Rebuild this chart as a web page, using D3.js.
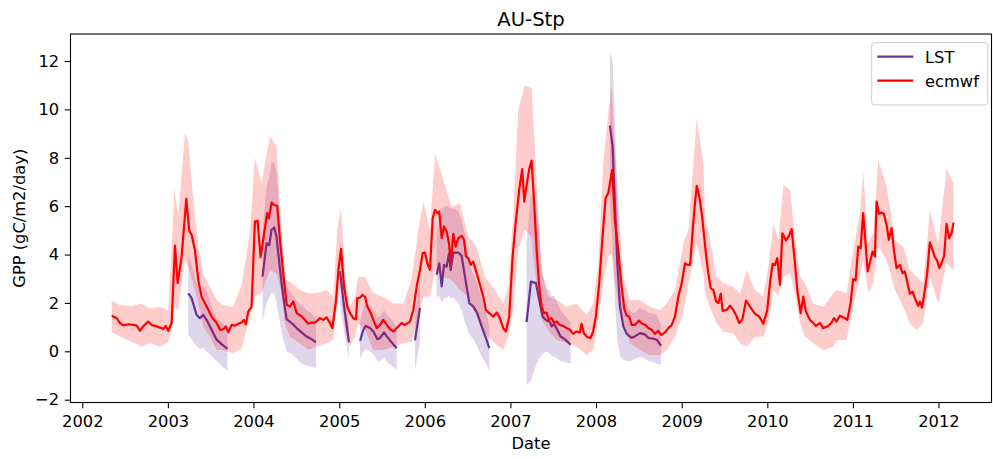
<!DOCTYPE html>
<html>
<head>
<meta charset="utf-8">
<script src="https://cdn.jsdelivr.net/npm/d3@7"></script>
<style>
  html, body { margin: 0; padding: 0; background: #fff; }
  svg { display: block; font-family: "DejaVu Sans", sans-serif; }
</style>
</head>
<body>
<svg id="chart" width="993" height="459"></svg>
<script>
// ECMWF-driven GPP estimate (decimal years, gC/m2/day)
const ecmwfYear = [
  2002.343, 2002.402, 2002.440, 2002.479, 2002.537, 2002.596, 2002.635, 2002.674, 2002.712, 2002.771,
  2002.810, 2002.869, 2002.907, 2002.946, 2002.974, 2003.004, 2003.044, 2003.083, 2003.114, 2003.161,
  2003.215, 2003.250, 2003.278, 2003.316, 2003.355, 2003.394, 2003.453, 2003.511, 2003.570, 2003.608,
  2003.647, 2003.678, 2003.705, 2003.745, 2003.783, 2003.822, 2003.861, 2003.888, 2003.912, 2003.939,
  2003.978, 2004.017, 2004.048, 2004.083, 2004.122, 2004.160, 2004.180, 2004.212, 2004.242, 2004.277,
  2004.309, 2004.347, 2004.387, 2004.426, 2004.464, 2004.504, 2004.562, 2004.601, 2004.639, 2004.679,
  2004.718, 2004.776, 2004.814, 2004.854, 2004.893, 2004.920, 2004.963, 2004.990, 2005.021, 2005.056,
  2005.095, 2005.126, 2005.165, 2005.196, 2005.211, 2005.243, 2005.270, 2005.301, 2005.328, 2005.368,
  2005.407, 2005.438, 2005.477, 2005.515, 2005.555, 2005.593, 2005.632, 2005.672, 2005.730, 2005.768,
  2005.827, 2005.865, 2005.905, 2005.944, 2005.975, 2006.002, 2006.029, 2006.060, 2006.092, 2006.119,
  2006.146, 2006.169, 2006.197, 2006.224, 2006.255, 2006.282, 2006.302, 2006.333, 2006.361, 2006.391,
  2006.431, 2006.458, 2006.481, 2006.508, 2006.536, 2006.566, 2006.606, 2006.644, 2006.683, 2006.714,
  2006.753, 2006.800, 2006.839, 2006.878, 2006.916, 2006.948, 2006.986, 2007.026, 2007.065, 2007.103,
  2007.138, 2007.162, 2007.190, 2007.220, 2007.248, 2007.278, 2007.307, 2007.337, 2007.365, 2007.392,
  2007.423, 2007.450, 2007.481, 2007.508, 2007.540, 2007.578, 2007.617, 2007.657, 2007.695, 2007.734,
  2007.773, 2007.812, 2007.832, 2007.859, 2007.897, 2007.937, 2007.967, 2007.999, 2008.038, 2008.077,
  2008.112, 2008.143, 2008.189, 2008.221, 2008.259, 2008.299, 2008.329, 2008.357, 2008.388, 2008.416,
  2008.454, 2008.501, 2008.540, 2008.579, 2008.610, 2008.649, 2008.688, 2008.726, 2008.758, 2008.805,
  2008.843, 2008.883, 2008.921, 2008.960, 2009.000, 2009.038, 2009.070, 2009.097, 2009.128, 2009.147,
  2009.175, 2009.205, 2009.237, 2009.277, 2009.310, 2009.338, 2009.369, 2009.401, 2009.427, 2009.455,
  2009.478, 2009.525, 2009.564, 2009.602, 2009.642, 2009.672, 2009.707, 2009.751, 2009.797, 2009.856,
  2009.906, 2009.953, 2009.999, 2010.031, 2010.062, 2010.089, 2010.116, 2010.148, 2010.175, 2010.218,
  2010.253, 2010.284, 2010.323, 2010.350, 2010.390, 2010.420, 2010.451, 2010.498, 2010.537, 2010.568,
  2010.615, 2010.653, 2010.712, 2010.751, 2010.778, 2010.810, 2010.848, 2010.907, 2010.934, 2010.973,
  2011.003, 2011.032, 2011.062, 2011.090, 2011.120, 2011.149, 2011.172, 2011.199, 2011.230, 2011.257,
  2011.277, 2011.304, 2011.335, 2011.362, 2011.394, 2011.420, 2011.452, 2011.479, 2011.510, 2011.549,
  2011.580, 2011.607, 2011.634, 2011.666, 2011.698, 2011.724, 2011.763, 2011.783, 2011.809, 2011.841,
  2011.868, 2011.899, 2011.931, 2011.958, 2011.985, 2012.008, 2012.036, 2012.066, 2012.094, 2012.125,
  2012.153, 2012.176
];
const ecmwfGpp = [
  1.47, 1.37, 1.17, 1.07, 1.12, 1.09, 1.06, 0.85, 1.03, 1.23,
  1.09, 1.03, 0.98, 0.92, 1.05, 0.85, 1.17, 4.37, 2.82, 3.92,
  6.30, 4.98, 4.81, 4.19, 2.95, 2.26, 1.85, 1.44, 1.17, 0.89,
  0.91, 1.03, 0.79, 1.09, 1.06, 1.14, 1.19, 1.30, 1.12, 1.64,
  1.85, 5.36, 5.40, 3.89, 4.81, 5.71, 5.50, 6.15, 6.05, 6.01,
  4.61, 3.23, 1.92, 1.85, 2.06, 1.58, 1.44, 1.30, 1.14, 1.19,
  1.19, 1.37, 1.30, 1.40, 1.16, 0.96, 2.13, 3.36, 4.24, 2.68,
  1.85, 1.58, 1.37, 1.32, 2.20, 2.22, 2.33, 2.26, 1.85, 1.58,
  1.23, 0.96, 1.09, 1.30, 1.09, 0.92, 0.82, 0.96, 1.17, 1.09,
  1.23, 1.70, 2.68, 3.37, 4.06, 4.08, 3.64, 3.37, 5.50, 5.85,
  5.71, 5.78, 4.68, 5.16, 4.95, 4.47, 3.64, 4.86, 4.33, 4.68,
  4.77, 4.61, 3.92, 3.85, 3.57, 3.71, 3.23, 2.75, 2.26, 1.71,
  1.58, 1.44, 1.60, 1.37, 0.96, 0.82, 1.44, 3.92, 5.43, 6.67,
  7.53, 6.19, 6.88, 7.53, 7.88, 6.12, 4.19, 2.68, 1.85, 1.58,
  1.60, 1.30, 1.37, 1.19, 1.23, 1.09, 1.05, 0.96, 0.89, 0.72,
  0.82, 0.78, 1.14, 0.75, 0.59, 0.55, 0.82, 1.44, 2.82, 4.74,
  6.33, 6.54, 7.50, 5.43, 4.19, 2.68, 1.78, 1.47, 1.44, 1.09,
  1.09, 1.27, 1.14, 1.09, 0.96, 0.89, 0.72, 0.85, 0.68, 0.78,
  0.96, 1.09, 1.44, 2.26, 2.82, 3.64, 3.57, 3.57, 5.02, 5.85,
  6.84, 6.40, 5.60, 4.20, 3.23, 2.61, 2.53, 2.06, 1.99, 2.38,
  1.67, 1.71, 1.89, 1.71, 1.44, 1.17, 1.30, 2.10, 1.85, 1.55,
  1.44, 1.14, 1.71, 2.82, 3.62, 3.57, 3.85, 2.75, 4.88, 4.58,
  4.77, 5.05, 3.64, 2.54, 1.58, 2.26, 1.64, 1.30, 1.17, 1.05,
  1.17, 0.96, 1.05, 1.19, 1.37, 1.23, 1.47, 1.37, 1.30, 1.99,
  2.98, 2.93, 4.33, 4.26, 5.71, 4.40, 3.30, 3.67, 4.12, 3.92,
  6.19, 5.68, 5.74, 5.68, 5.22, 4.61, 5.09, 4.19, 3.44, 3.57,
  3.23, 3.30, 2.88, 2.38, 2.47, 2.20, 1.88, 2.05, 1.81, 2.54,
  3.23, 4.50, 4.19, 3.89, 3.75, 3.44, 3.64, 3.95, 5.27, 4.68,
  4.88, 5.32
];

// Spread envelope around the ECMWF estimate
const ecmwfBandYear = [
  2002.343, 2002.440, 2002.576, 2002.693, 2002.790, 2002.907, 2003.004, 2003.043, 2003.075, 2003.121,
  2003.199, 2003.238, 2003.297, 2003.355, 2003.413, 2003.491, 2003.569, 2003.647, 2003.764, 2003.861,
  2003.958, 2004.017, 2004.094, 2004.192, 2004.269, 2004.328, 2004.367, 2004.425, 2004.542, 2004.639,
  2004.737, 2004.853, 2004.931, 2004.978, 2005.021, 2005.068, 2005.126, 2005.184, 2005.223, 2005.301,
  2005.398, 2005.515, 2005.632, 2005.749, 2005.846, 2005.924, 2005.983, 2006.060, 2006.119, 2006.216,
  2006.313, 2006.411, 2006.508, 2006.605, 2006.703, 2006.819, 2006.917, 2006.975, 2007.034, 2007.092,
  2007.170, 2007.248, 2007.306, 2007.365, 2007.442, 2007.540, 2007.657, 2007.773, 2007.890, 2007.968,
  2008.027, 2008.085, 2008.143, 2008.182, 2008.221, 2008.280, 2008.319, 2008.396, 2008.513, 2008.630,
  2008.747, 2008.825, 2008.922, 2009.019, 2009.078, 2009.175, 2009.253, 2009.272, 2009.331, 2009.408,
  2009.486, 2009.603, 2009.681, 2009.759, 2009.856, 2009.953, 2010.012, 2010.070, 2010.129, 2010.187,
  2010.265, 2010.323, 2010.382, 2010.440, 2010.537, 2010.654, 2010.771, 2010.810, 2010.926, 2011.004,
  2011.082, 2011.121, 2011.180, 2011.238, 2011.296, 2011.394, 2011.491, 2011.588, 2011.666, 2011.744,
  2011.822, 2011.900, 2011.997, 2012.094, 2012.176
];
const ecmwfBandLow = [
  0.81, 0.60, 0.40, 0.19, 0.33, 0.19, 0.40, 0.88, 1.84, 1.70,
  3.77, 3.50, 2.80, 1.98, 1.02, 0.60, 0.05, 0.05, -0.08, 0.12,
  1.43, 2.26, 2.40, 3.36, 3.22, 2.40, 1.16, 0.60, 0.33, 0.05,
  0.19, 0.33, 0.47, 1.98, 2.81, 0.88, 0.19, 0.60, 1.16, 0.88,
  0.05, 0.05, 0.19, 0.33, 0.40, 1.43, 2.26, 2.26, 3.36, 3.08,
  2.95, 2.53, 2.26, 1.43, 0.74, 0.33, 0.05, 0.60, 1.70, 4.20,
  5.00, 4.74, 2.67, 1.29, 0.88, 0.47, 0.33, 0.19, -0.15, 0.05,
  1.29, 2.81, 3.91, 4.05, 2.81, 1.57, 1.16, 0.33, 0.05, -0.15,
  -0.15, 0.05, 0.60, 1.57, 2.81, 4.46, 3.22, 2.40, 1.80, 1.16,
  0.81, 0.74, 0.33, 0.19, 0.60, 0.60, 1.16, 2.53, 2.30, 3.08,
  3.22, 2.40, 1.16, 0.60, 0.33, 0.05, 0.19, 0.47, 0.47, 1.84,
  3.08, 3.77, 2.40, 2.81, 4.32, 3.77, 2.53, 1.84, 1.16, 0.88,
  1.16, 3.08, 1.98, 3.64, 3.36
];
const ecmwfBandHigh = [
  2.09, 1.91, 1.87, 1.98, 1.78, 1.84, 1.71, 4.19, 6.74, 5.56,
  9.00, 8.70, 6.25, 4.46, 3.22, 2.67, 2.12, 1.91, 1.84, 2.74,
  4.88, 8.00, 6.95, 8.90, 8.50, 4.88, 2.95, 2.88, 2.53, 2.40,
  2.40, 2.53, 2.26, 5.10, 5.98, 3.08, 1.84, 2.26, 3.08, 3.08,
  2.40, 2.26, 1.98, 1.98, 3.00, 5.00, 6.18, 5.00, 8.18, 7.08,
  5.98, 6.12, 4.74, 4.32, 3.08, 2.53, 1.98, 2.67, 5.70, 10.00,
  11.00, 10.90, 7.08, 3.36, 2.26, 2.12, 1.84, 1.98, 1.50, 1.98,
  3.64, 7.77, 9.84, 10.94, 8.46, 5.01, 3.08, 2.12, 2.12, 1.84,
  1.71, 1.98, 2.53, 4.46, 5.01, 9.63, 7.77, 5.56, 4.60, 3.08,
  2.81, 2.67, 2.40, 3.36, 2.53, 2.26, 3.50, 5.29, 4.60, 6.87,
  6.67, 4.74, 3.08, 2.81, 1.98, 1.84, 2.40, 2.53, 2.40, 4.19,
  5.70, 7.42, 4.46, 4.88, 7.91, 6.80, 4.60, 4.32, 3.36, 3.08,
  2.81, 5.84, 4.46, 7.56, 6.95
];

// LST-driven GPP estimate; null marks gaps between observation periods
const lstYear = [
  2003.238, 2003.277, 2003.335, 2003.374, 2003.413, 2003.452, 2003.511, 2003.569, 2003.627, 2003.697,
  2003.900,
  2004.106, 2004.153, 2004.184, 2004.211, 2004.242, 2004.269, 2004.308, 2004.347, 2004.386, 2004.445,
  2004.503, 2004.561, 2004.620, 2004.678, 2004.729,
  2004.870,
  2005.009, 2005.056, 2005.114,
  2005.180,
  2005.243, 2005.282, 2005.309, 2005.360, 2005.406, 2005.445, 2005.476, 2005.523, 2005.562, 2005.613,
  2005.671,
  2005.780,
  2005.885, 2005.944,
  2006.040,
  2006.138, 2006.169, 2006.197, 2006.224, 2006.255, 2006.282, 2006.302, 2006.333, 2006.391, 2006.430,
  2006.469, 2006.520, 2006.567, 2006.613, 2006.664, 2006.714, 2006.753,
  2006.970,
  2007.189, 2007.240, 2007.298, 2007.337, 2007.376, 2007.423, 2007.462, 2007.481, 2007.509, 2007.548,
  2007.586, 2007.637, 2007.703,
  2007.930,
  2008.163, 2008.194, 2008.221, 2008.249, 2008.280, 2008.319, 2008.358, 2008.416, 2008.455, 2008.513,
  2008.572, 2008.611, 2008.669, 2008.708, 2008.759
];
const lstGpp = [
  2.40, 2.20, 1.51, 1.37, 1.51, 1.30, 0.89, 0.48, 0.30, 0.10,
  null,
  3.09, 4.47, 4.39, 5.02, 5.12, 4.74, 3.44, 2.26, 1.33, 1.17,
  0.96, 0.78, 0.61, 0.50, 0.37,
  null,
  3.30, 1.85, 0.37,
  null,
  0.43, 0.89, 1.05, 0.96, 0.78, 0.50, 0.55, 0.78, 0.59, 0.37,
  0.13,
  null,
  0.45, 1.80,
  null,
  3.16, 3.64, 2.68, 3.57, 3.50, 4.03, 3.37, 4.08, 4.08, 3.95,
  3.09, 1.99, 1.85, 1.58, 1.03, 0.55, 0.13,
  null,
  1.21, 2.88, 2.82, 2.13, 1.44, 1.27, 1.22, 1.03, 1.14, 0.89,
  0.61, 0.50, 0.27,
  null,
  9.33, 8.46, 6.12, 3.64, 1.85, 1.03, 0.72, 0.55, 0.62, 0.75,
  0.70, 0.55, 0.52, 0.48, 0.23
];
const lstLow = [
  0.70, 0.50, 0.20, 0.10, 0.15, 0.00, -0.20, -0.40, -0.60, -0.80,
  null,
  1.20, 2.00, 2.20, 2.40, 2.40, 2.00, 1.20, 0.50, 0.00, -0.10,
  -0.30, -0.50, -0.60, -0.65, -0.70,
  null,
  2.00, 0.80, -0.30,
  null,
  -0.30, 0.00, 0.10, 0.00, -0.15, -0.40, -0.40, -0.25, -0.45, -0.60,
  -0.75,
  null,
  -0.80, 0.40,
  null,
  2.20, 2.30, 2.00, 2.20, 2.20, 2.30, 2.20, 2.20, 2.00, 1.70,
  1.20, 0.70, 0.50, 0.20, -0.20, -0.50, -0.80,
  null,
  -1.40, -1.20, -0.60, -0.30, -0.10, 0.00, -0.10, -0.20, -0.20, -0.30,
  -0.40, -0.45, -0.50,
  null,
  6.00, 4.50, 2.00, 0.50, -0.20, -0.35, -0.40, -0.40, -0.30, -0.25,
  -0.30, -0.40, -0.45, -0.50, -0.55
];
const lstHigh = [
  4.00, 3.60, 2.80, 2.60, 2.70, 2.50, 1.90, 1.40, 1.20, 1.00,
  null,
  5.00, 6.80, 7.20, 7.80, 7.80, 7.40, 5.60, 4.00, 2.70, 2.40,
  2.10, 1.90, 1.70, 1.55, 1.40,
  null,
  4.60, 2.90, 1.10,
  null,
  1.20, 1.80, 2.00, 1.90, 1.70, 1.40, 1.45, 1.70, 1.50, 1.30,
  1.00,
  null,
  1.50, 3.00,
  null,
  4.80, 5.50, 5.80, 6.00, 6.00, 6.00, 5.90, 5.90, 5.80, 5.40,
  4.80, 3.60, 3.20, 2.80, 2.20, 1.60, 1.10,
  null,
  4.50, 6.50, 6.20, 4.80, 3.20, 2.60, 2.50, 2.30, 2.30, 2.00,
  1.70, 1.50, 1.20,
  null,
  12.40, 12.00, 9.50, 6.50, 3.60, 2.40, 1.90, 1.60, 1.60, 1.80,
  1.70, 1.60, 1.55, 1.50, 1.10
];

// Axis ticks and labels
const yearTicks = [2002, 2003, 2004, 2005, 2006, 2007, 2008, 2009, 2010, 2011, 2012];
const gppTicks = [-2, 0, 2, 4, 6, 8, 10, 12];
const seriesNames = ["LST", "ecmwf"];
const seriesColors = ["rebeccapurple", "#ff0000"];
const chartTitle = "AU-Stp";
const xTitle = "Date";
const yTitle = "GPP (gC/m2/day)";

// Decimal year -> UTC date
function yearToDate(yr) {
  const y0 = Math.floor(yr);
  const a = Date.UTC(y0, 0, 1), b = Date.UTC(y0 + 1, 0, 1);
  return new Date(a + (yr - y0) * (b - a));
}

const plot = { left: 70.5, right: 991.5, top: 34, bottom: 402.5 };
const FS = 16.3;

const svg = d3.select("#chart");

const x = d3.scaleUtc()
  .domain([yearToDate(2001.862), yearToDate(2012.618)])
  .range([plot.left, plot.right]);
const y = d3.scaleLinear()
  .domain([-2.116, 13.117])
  .range([plot.bottom, plot.top]);

svg.append("defs").append("clipPath").attr("id", "plotClip")
  .append("rect")
  .attr("x", plot.left).attr("y", plot.top)
  .attr("width", plot.right - plot.left).attr("height", plot.bottom - plot.top);

const ecmwf = ecmwfYear.map((t, i) => ({ t: yearToDate(t), v: ecmwfGpp[i] }));
const ecmwfBand = ecmwfBandYear.map((t, i) => ({ t: yearToDate(t), lo: ecmwfBandLow[i], hi: ecmwfBandHigh[i] }));
const lst = lstYear.map((t, i) => ({ t: yearToDate(t), v: lstGpp[i], lo: lstLow[i], hi: lstHigh[i] }));

const line = d3.line()
  .defined(d => d.v != null)
  .x(d => x(d.t)).y(d => y(d.v));
const area = d3.area()
  .defined(d => d.lo != null && d.hi != null)
  .x(d => x(d.t)).y0(d => y(d.lo)).y1(d => y(d.hi));

const g = svg.append("g").attr("clip-path", "url(#plotClip)");

// LST series: line then its envelope
g.append("path").datum(lst)
  .attr("d", line)
  .attr("fill", "none")
  .attr("stroke", seriesColors[0])
  .attr("stroke-width", 2.2)
  .attr("stroke-linejoin", "round");
g.append("path").datum(lst)
  .attr("d", area)
  .attr("fill", seriesColors[0])
  .attr("fill-opacity", 0.2);

// ECMWF series: line then its envelope
g.append("path").datum(ecmwf)
  .attr("d", line)
  .attr("fill", "none")
  .attr("stroke", seriesColors[1])
  .attr("stroke-width", 2.2)
  .attr("stroke-linejoin", "round");
g.append("path").datum(ecmwfBand)
  .attr("d", area)
  .attr("fill", seriesColors[1])
  .attr("fill-opacity", 0.2);

// Axes
const xAxis = d3.axisBottom(x)
  .tickValues(yearTicks.map(yr => new Date(Date.UTC(yr, 0, 1))))
  .tickFormat(d3.utcFormat("%Y"))
  .tickSize(5.7).tickSizeOuter(0).tickPadding(7);
const yAxis = d3.axisLeft(y)
  .tickValues(gppTicks)
  .tickFormat(d => d < 0 ? "\u2212" + Math.abs(d) : String(d))
  .tickSize(5.7).tickSizeOuter(0).tickPadding(5.7);

const gx = svg.append("g").attr("transform", `translate(0,${plot.bottom})`).call(xAxis);
const gy = svg.append("g").attr("transform", `translate(${plot.left},0)`).call(yAxis);
[gx, gy].forEach(a => {
  a.attr("font-family", "DejaVu Sans, sans-serif").attr("font-size", FS);
  a.select(".domain").remove();
  a.selectAll(".tick line").attr("stroke", "#000").attr("stroke-width", 1.1);
  a.selectAll(".tick text").attr("fill", "#000");
});

// Frame
svg.append("rect")
  .attr("x", plot.left).attr("y", plot.top)
  .attr("width", plot.right - plot.left).attr("height", plot.bottom - plot.top)
  .attr("fill", "none").attr("stroke", "#000").attr("stroke-width", 1.1);

// Titles
svg.append("text")
  .attr("x", (plot.left + plot.right) / 2).attr("y", 26)
  .attr("text-anchor", "middle").attr("font-size", 19.6).attr("fill", "#000")
  .text(chartTitle);
svg.append("text")
  .attr("x", (plot.left + plot.right) / 2).attr("y", 449)
  .attr("text-anchor", "middle").attr("font-size", FS).attr("fill", "#000")
  .text(xTitle);
svg.append("text")
  .attr("transform", `translate(25,${(plot.top + plot.bottom) / 2}) rotate(-90)`)
  .attr("text-anchor", "middle").attr("font-size", FS).attr("fill", "#000")
  .text(yTitle);

// Legend
const lg = svg.append("g");
lg.append("rect")
  .attr("x", 871.7).attr("y", 42.7).attr("width", 116).attr("height", 62.3)
  .attr("rx", 3).attr("fill", "#fff").attr("fill-opacity", 0.8)
  .attr("stroke", "#cccccc").attr("stroke-width", 1);
seriesNames.forEach((name, i) => {
  const cy = 56.7 + i * 24;
  lg.append("line")
    .attr("x1", 877.3).attr("x2", 913.3).attr("y1", cy).attr("y2", cy)
    .attr("stroke", seriesColors[i]).attr("stroke-width", 2.2);
  lg.append("text")
    .attr("x", 925).attr("y", cy + 5.9)
    .attr("font-size", FS).attr("fill", "#000")
    .text(name);
});
</script>
</body>
</html>
